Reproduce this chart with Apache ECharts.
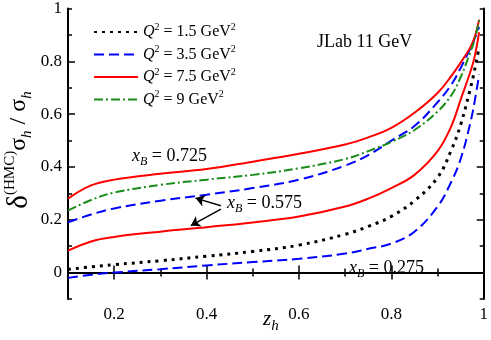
<!DOCTYPE html>
<html><head><meta charset="utf-8">
<script src="https://cdn.jsdelivr.net/npm/echarts@6/dist/echarts.min.js"></script>
<style>html,body{margin:0;padding:0;background:#fff}#c{width:491px;height:340px}</style>
</head><body><div id="c"></div>
<script>
// z_h sample points
const zh = [0.1, 0.15, 0.2, 0.3, 0.4, 0.5, 0.6, 0.7, 0.75, 0.8, 0.85, 0.9, 0.93, 0.95, 0.97, 0.98, 0.99];
// x_B = 0.275
const q15_xb0275 = [0.012, 0.022, 0.03, 0.045, 0.062, 0.08, 0.104, 0.145, 0.175, 0.213, 0.272, 0.36, 0.465, 0.56, 0.69, 0.765, 0.855];
const q35_xb0275 = [-0.02, -0.008, 0.0, 0.013, 0.027, 0.04, 0.052, 0.072, 0.09, 0.11, 0.155, 0.25, 0.345, 0.43, 0.56, 0.645, 0.75];
// x_B = 0.575
const q35_xb0575 = [0.19, 0.22, 0.243, 0.272, 0.295, 0.32, 0.352, 0.405, 0.445, 0.5, 0.555, 0.645, 0.712, 0.775, 0.845, 0.885, 0.93];
const q75_xb0575 = [0.083, 0.118, 0.135, 0.155, 0.172, 0.19, 0.212, 0.25, 0.28, 0.32, 0.37, 0.46, 0.555, 0.655, 0.755, 0.815, 0.91];
// x_B = 0.725
const q75_xb0725 = [0.28, 0.33, 0.352, 0.374, 0.392, 0.42, 0.45, 0.485, 0.512, 0.548, 0.605, 0.68, 0.745, 0.795, 0.85, 0.89, 0.958];
const q9_xb0725 = [0.235, 0.275, 0.303, 0.332, 0.352, 0.37, 0.395, 0.43, 0.46, 0.495, 0.54, 0.61, 0.672, 0.74, 0.83, 0.88, 0.955];

const xMajorTicks = [0.2, 0.4, 0.6, 0.8, 1];
const yMajorTicks = [0, 0.2, 0.4, 0.6, 0.8, 1];
const legendNames = ['1.5', '3.5', '7.5', '9'];
// arrow annotations (data coords): from label to curves
const arrowFrom = [[0.431, 0.253], [0.431, 0.240]];
const arrowTo = [[0.376, 0.282], [0.366, 0.178]];

const FONT = '"Liberation Serif", "DejaVu Serif", serif';
const pairs = (ys) => zh.map((x, i) => [x, ys[i]]);

function xAxisDef(pos, major, labels) {
  return {
    type: 'value', min: 0.1, max: 1, interval: 0.1, position: pos,
    axisLine: { show: !major, lineStyle: { color: '#000', width: 2 } },
    axisTick: major
      ? { show: true, inside: true, length: 7, customValues: xMajorTicks.slice(0, 4), lineStyle: { color: '#000', width: 1.5 } }
      : { show: true, inside: true, length: 4, lineStyle: { color: '#000', width: 1.5 } },
    axisLabel: labels
      ? { show: true, customValues: xMajorTicks, formatter: v => String(+(+v).toFixed(1)), margin: 7, fontFamily: FONT, fontSize: 17, color: '#000' }
      : { show: false },
    splitLine: { show: false }
  };
}
function yAxisDef(pos, major, labels) {
  return {
    type: 'value', min: -0.1, max: 1, interval: 0.1, position: pos,
    axisLine: { show: !major, lineStyle: { color: '#000', width: 2 } },
    axisTick: major
      ? { show: true, inside: true, length: 7, customValues: yMajorTicks.slice(0, 5), lineStyle: { color: '#000', width: 1.5 } }
      : { show: true, inside: true, length: 4, lineStyle: { color: '#000', width: 1.5 } },
    axisLabel: labels
      ? { show: true, customValues: yMajorTicks, formatter: v => String(+(+v).toFixed(1)), margin: 6, fontFamily: FONT, fontSize: 17, color: '#000' }
      : { show: false },
    splitLine: { show: false }
  };
}

function lineSeries(name, data, color, type, width) {
  return {
    type: 'line', name: name, data: pairs(data), xAxisIndex: 0, yAxisIndex: 0,
    showSymbol: false, symbol: 'none', smooth: 0.4,
    lineStyle: { color: color, type: type, width: width },
    itemStyle: { color: color }, z: 3
  };
}

const chart = echarts.init(document.getElementById('c'));
const legendRich = {
  q: { fontFamily: FONT, fontSize: 16, fontStyle: 'italic', color: '#000', lineHeight: 20 },
  sup: { fontFamily: FONT, fontSize: 10, color: '#000', verticalAlign: 'top', lineHeight: 10 },
  n: { fontFamily: FONT, fontSize: 16, color: '#000', lineHeight: 20 }
};
const legendRows = [32, 54.5, 77, 99.5];
const legends = legendNames.map((n, i) => ({
  orient: 'vertical', left: 93, top: legendRows[i] - 10, itemWidth: 44, itemHeight: 10, itemGap: 0,
  data: [n], selectedMode: false, padding: 0,
  itemStyle: { opacity: 0 },
  formatter: s => '{q|Q}{sup|2}{n| = ' + s + ' GeV}{sup|2}',
  textStyle: { rich: legendRich, lineHeight: 20, padding: 0 }
}));
const series = [
  lineSeries(legendNames[0], q15_xb0275, '#000000', [3, 5], 3),
  lineSeries(legendNames[1], q35_xb0275, '#0000ff', [10, 5], 2),
  lineSeries(legendNames[1], q35_xb0575, '#0000ff', [10, 5], 2),
  lineSeries(legendNames[2], q75_xb0575, '#ff0000', 'solid', 2),
  lineSeries(legendNames[2], q75_xb0725, '#ff0000', 'solid', 2),
  lineSeries(legendNames[3], q9_xb0725, '#1a8c1a', [9, 3, 2, 3], 2)
];
series[3].markLine = {
  silent: true, symbol: ['none', 'arrow'], symbolSize: 9, animation: false,
  lineStyle: { color: '#000', width: 1.5, type: 'solid' },
  label: { show: false },
  data: arrowFrom.map((f, i) => [{ coord: f }, { coord: arrowTo[i] }])
};

const xbRich = {
  x: { fontFamily: FONT, fontSize: 18, fontStyle: 'italic', color: '#000', lineHeight: 24 },
  b: { fontFamily: FONT, fontSize: 12, fontStyle: 'italic', color: '#000', lineHeight: 12, verticalAlign: 'bottom' },
  n: { fontFamily: FONT, fontSize: 18, color: '#000', lineHeight: 24 }
};

chart.setOption({
  animation: false,
  backgroundColor: '#fff',
  grid: { left: 68, right: 5, top: 5, bottom: 41, containLabel: false },
  xAxis: [xAxisDef('bottom', false, true), xAxisDef('bottom', true, false), xAxisDef('top', false, false), xAxisDef('top', true, false)],
  yAxis: [yAxisDef('left', false, true), yAxisDef('left', true, false), yAxisDef('right', false, false), yAxisDef('right', true, false)],
  legend: legends,
  series: series,
  graphic: [
    { type: 'text', left: 317, top: 33, style: { text: 'JLab 11 GeV', font: '18px ' + FONT, fill: '#000' } },
    { type: 'text', left: 132, top: 147, style: { text: '{x|x}{b|B}{n| = 0.725}', rich: xbRich } },
    { type: 'text', left: 227, top: 194, style: { text: '{x|x}{b|B}{n| = 0.575}', rich: xbRich } },
    { type: 'text', left: 349, top: 259, style: { text: '{x|x}{b|B}{n| = 0.275}', rich: xbRich } },
    { type: 'text', left: 263, top: 309, style: {
        text: '{z|z}{h|h}',
        rich: {
          z: { fontFamily: FONT, fontSize: 21, fontStyle: 'italic', color: '#000', lineHeight: 28 },
          h: { fontFamily: FONT, fontSize: 15, fontStyle: 'italic', color: '#000', lineHeight: 15, verticalAlign: 'bottom' }
        } } },
    { type: 'text', x: 19, y: 150, rotation: Math.PI / 2, style: {
        text: '{d|δ}{sup|(HMC)}{s|σ}{sub|h}{s| / σ}{sub|h}',
        align: 'center', verticalAlign: 'middle',
        rich: {
          d: { fontFamily: FONT, fontSize: 29, color: '#000', lineHeight: 32 },
          sup: { fontFamily: FONT, fontSize: 15, color: '#000', lineHeight: 15, verticalAlign: 'top' },
          s: { fontFamily: FONT, fontSize: 24, color: '#000', lineHeight: 32 },
          sub: { fontFamily: FONT, fontSize: 15, fontStyle: 'italic', color: '#000', lineHeight: 15, verticalAlign: 'bottom' }
        } } }
  ]
});
</script></body></html>
